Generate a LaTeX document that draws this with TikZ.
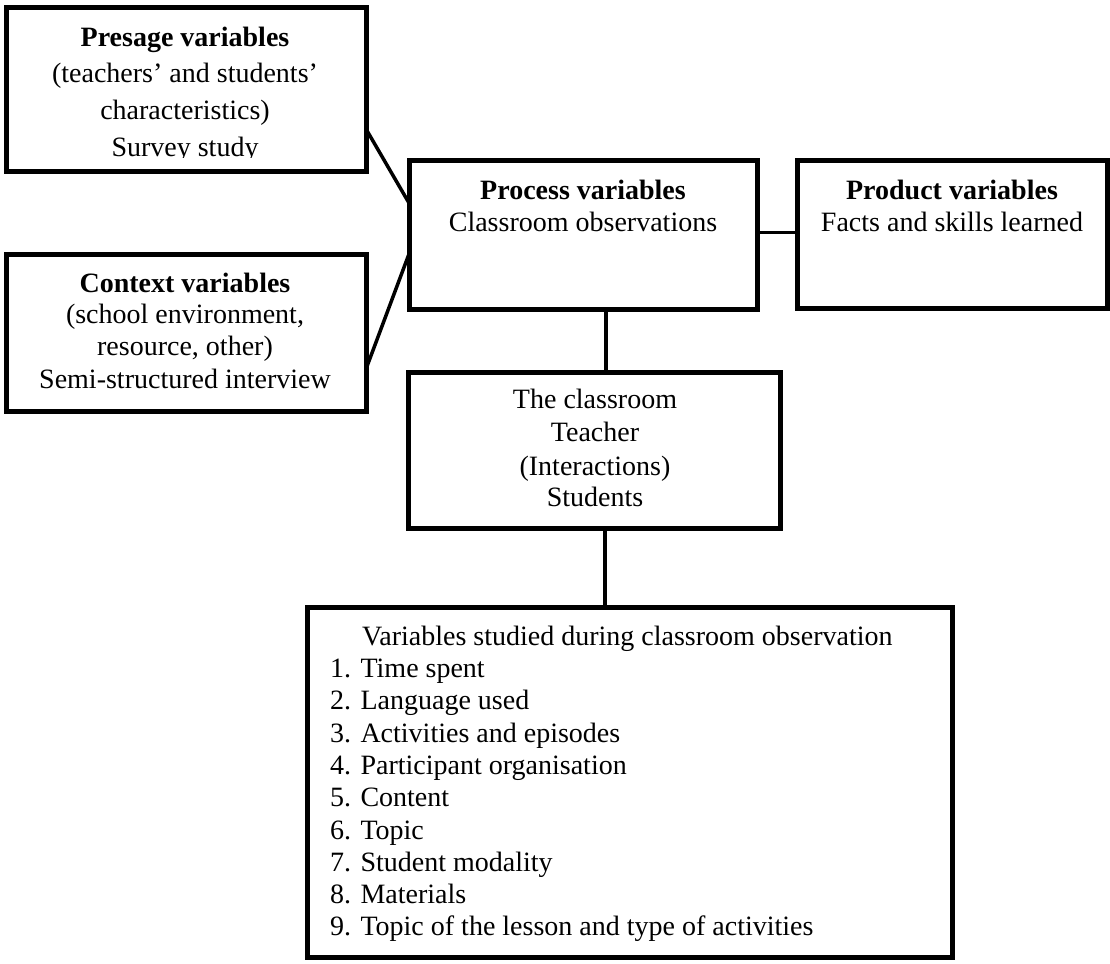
\documentclass[tikz,border=0pt]{standalone}
\usepackage{fontspec}
\setmainfont{Liberation Serif}
\usetikzlibrary{calc}

\tikzset{
  box/.style={draw=black, line width=5pt, rectangle, inner sep=0pt, outer sep=0pt, fill=white},
  conn/.style={draw=black, line width=3.5pt},
  txt/.style={inner sep=0pt, anchor=base, font=\fontsize{28}{32}\selectfont},
  head/.style={txt, font=\fontsize{28}{32}\selectfont\bfseries},
  item/.style={txt, anchor=base west},
}

\begin{document}
\begin{tikzpicture}[x=1pt, y=-1pt]
  \useasboundingbox (0,0) rectangle (1110,963);

  % boxes
  \node[box, minimum width=359.5pt, minimum height=163.5pt] (pres)  at (186.25,89.25) {};
  \node[box, minimum width=359.5pt, minimum height=157pt]   (ctx)   at (186.25,333) {};
  \node[box, minimum width=348.5pt, minimum height=149pt]   (proc)  at (583.25,234.5) {};
  \node[box, minimum width=310pt,   minimum height=148.5pt] (prod)  at (952,234.25) {};
  \node[box, minimum width=372pt,   minimum height=156pt]   (class) at (594,450) {};
  \node[box, minimum width=645pt,   minimum height=350pt]   (list)  at (629.5,782) {};

  % connectors
  \draw[conn] ($(pres.south east)+(0,-42)$) -- ($(proc.west)+(0,-31.5)$);
  \draw[conn] ($(ctx.north east)+(0,114.5)$) -- ($(proc.west)+(0,19.5)$);
  \draw[conn] ($(proc.east)+(0,-2)$) coordinate (pe) -- (pe -| prod.west);
  \draw[conn] ($(proc.south)+(22.75,0)$) coordinate (pc) -- (pc |- class.north);
  \draw[conn] ($(class.south)+(11,0)$) coordinate (cl) -- (cl |- list.north);

  % presage
  \node[head] (pres1) at (185,46.7) {Presage variables};
  \node[txt]  (pres2) at (185,82.7) {(teachers’ and students’};
  \node[txt]  (pres3) at (185,119.3) {characteristics)};
  \begin{scope}
    \clip (0,0) rectangle (380,157);
    \node[txt] (pres4) at (185,156) {Survey study};
  \end{scope}

  % context
  \node[head] (ctx1) at (185,292.7) {Context variables};
  \node[txt]  (ctx2) at (185,323.5) {(school environment,};
  \node[txt]  (ctx3) at (185,355.5) {resource, other)};
  \node[txt]  (ctx4) at (185,388) {Semi-structured interview};

  % process
  \node[head] (proc1) at (583,199) {Process variables};
  \node[txt]  (proc2) at (583,231) {Classroom observations};

  % product
  \node[head] (prod1) at (952,199) {Product variables};
  \node[txt]  (prod2) at (952,231) {Facts and skills learned};

  % classroom
  \node[txt] (cl1) at (595,408) {The classroom};
  \node[txt] (cl2) at (595,441.5) {Teacher};
  \node[txt] (cl3) at (595,475) {(Interactions)};
  \node[txt] (cl4) at (595,506.5) {Students};

  % observed variables
  \node[item] (li0) at (362,645) {Variables studied during classroom observation};
  \node[item] (li1) at (330,677.5) {1. Time spent};
  \node[item] (li2) at (330,709.8) {2. Language used};
  \node[item] (li3) at (330,742.1) {3. Activities and episodes};
  \node[item] (li4) at (330,774.4) {4. Participant organisation};
  \node[item] (li5) at (330,806.7) {5. Content};
  \node[item] (li6) at (330,839) {6. Topic};
  \node[item] (li7) at (330,871.3) {7. Student modality};
  \node[item] (li8) at (330,903.6) {8. Materials};
  \node[item] (li9) at (330,935.9) {9. Topic of the lesson and type of activities};
\end{tikzpicture}
\end{document}
